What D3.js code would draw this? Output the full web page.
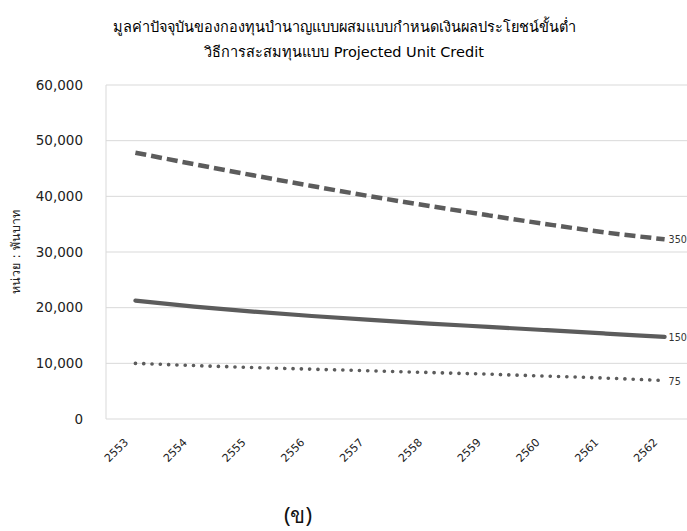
<!DOCTYPE html>
<html>
<head>
<meta charset="utf-8">
<script src="https://cdn.jsdelivr.net/npm/d3@7"></script>
<style>
  html, body { margin: 0; padding: 0; background: #fff; overflow: hidden; }
  svg { display: block; }
  text { font-family: "DejaVu Sans", "Noto Sans", sans-serif; }
</style>
</head>
<body>
<svg id="chart" width="687" height="531"></svg>
<script>
// Fiscal years (Thai Buddhist calendar)
const years = ["2553", "2554", "2555", "2556", "2557", "2558", "2559", "2560", "2561", "2562"];

// Present value of the hybrid pension fund (thousand baht), per scenario
const series350 = [47840, 45770, 43780, 41860, 40000, 38260, 36590, 34990, 33500, 32280];
const series150 = [21250, 20200, 19300, 18500, 17800, 17150, 16550, 15950, 15350, 14750];
const series75  = [10000, 9600, 9250, 8950, 8650, 8350, 8050, 7700, 7350, 6900];

const seriesNames = ["350", "150", "75"];
const yTicks = [0, 10000, 20000, 30000, 40000, 50000, 60000];

const titleLines = [
  "มูลค่าปัจจุบันของกองทุนบำนาญแบบผสมแบบกำหนดเงินผลประโยชน์ขั้นต่ำ",
  "วิธีการสะสมทุนแบบ Projected Unit Credit"
];
const yTitle = "หน่วย : พันบาท";
const caption = "(ข)";

const svg = d3.select("#chart");
const lineColor = "#5c5c5c";
const gridColor = "#d9d9d9";

const plot = { left: 106, right: 694, top: 85, bottom: 419 };

const x = d3.scalePoint().domain(years).range([plot.left, plot.right]).padding(0.5);
const y = d3.scaleLinear().domain([0, 60000]).range([plot.bottom, plot.top]);

// Title
svg.append("g").selectAll("text").data(titleLines).join("text")
  .attr("x", 344)
  .attr("y", (d, i) => 32 + i * 25)
  .attr("text-anchor", "middle")
  .attr("font-size", 14.5)
  .attr("fill", "#000")
  .text(d => d);

// Horizontal gridlines
svg.append("g").selectAll("line").data(yTicks).join("line")
  .attr("x1", plot.left).attr("x2", plot.right)
  .attr("y1", d => y(d)).attr("y2", d => y(d))
  .attr("stroke", gridColor).attr("stroke-width", 1);

// Left axis line
svg.append("line")
  .attr("x1", plot.left).attr("x2", plot.left)
  .attr("y1", plot.top).attr("y2", plot.bottom)
  .attr("stroke", gridColor).attr("stroke-width", 1);

// Y axis tick labels
const yAxis = d3.axisLeft(y).tickValues(yTicks).tickFormat(d3.format(",")).tickSize(0).tickPadding(23);
const gy = svg.append("g").attr("transform", `translate(${plot.left},0)`).call(yAxis);
gy.select(".domain").remove();
gy.selectAll("text").attr("font-size", 13.5).attr("fill", "#222")
  .style("font-family", "'DejaVu Sans', sans-serif");

// Y axis title
svg.append("text")
  .attr("transform", "translate(20,252) rotate(-90)")
  .attr("text-anchor", "middle")
  .attr("font-size", 12.5)
  .attr("fill", "#222")
  .text(yTitle);

// X axis tick labels (rotated)
const xAxis = d3.axisBottom(x).tickSize(0).tickPadding(0);
const gx = svg.append("g").attr("transform", `translate(0,${plot.bottom})`).call(xAxis);
gx.select(".domain").remove();
gx.selectAll("text")
  .attr("font-size", 11)
  .attr("fill", "#222")
  .attr("text-anchor", "end")
  .attr("dy", null)
  .attr("transform", "translate(-7,24) rotate(-45)");

// Series lines
const seriesData = [
  { name: seriesNames[0], values: series350, width: 4.5, dash: "11 5", cap: "butt" },
  { name: seriesNames[1], values: series150, width: 4.2, dash: null, cap: "round" },
  { name: seriesNames[2], values: series75,  width: 3.6, dash: "0.1 8.2", cap: "round" }
];

const line = d3.line()
  .x((d, i) => x(years[i]))
  .y(d => y(d))
  .curve(d3.curveMonotoneX);

svg.append("g").selectAll("path").data(seriesData).join("path")
  .attr("d", d => line(d.values))
  .attr("fill", "none")
  .attr("stroke", lineColor)
  .attr("stroke-width", d => d.width)
  .attr("stroke-linecap", d => d.cap)
  .attr("stroke-linejoin", "round")
  .attr("stroke-dasharray", d => d.dash);

// End-of-line series labels
svg.append("g").selectAll("text").data(seriesData).join("text")
  .attr("x", x(years[years.length - 1]) + 4)
  .attr("y", d => y(d.values[d.values.length - 1]) + 4)
  .attr("font-size", 9.6)
  .attr("fill", "#333")
  .text(d => d.name);

// Sub-figure caption
svg.append("text")
  .attr("x", 298)
  .attr("y", 523)
  .attr("text-anchor", "middle")
  .attr("font-size", 22)
  .attr("font-weight", "normal")
  .attr("fill", "#111")
  .style("font-family", "'Noto Sans', 'DejaVu Sans', sans-serif")
  .text(caption);
</script>
</body>
</html>
